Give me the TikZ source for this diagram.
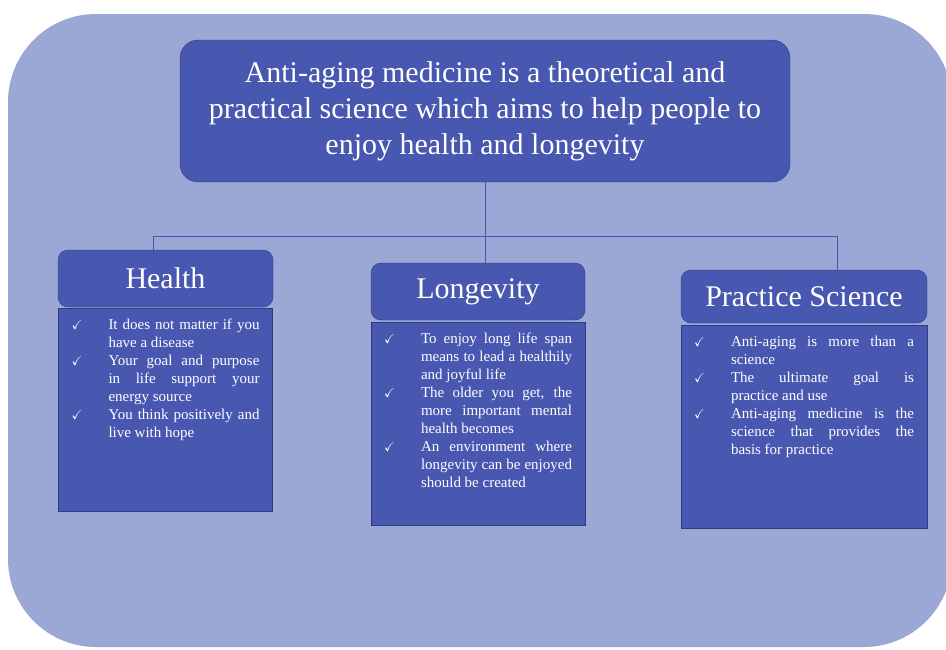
\documentclass[tikz,border=0pt]{standalone}
\usepackage{amssymb}
\usepackage{fontspec}
\setmainfont{Liberation Serif}
\usepackage{tikz}
\usetikzlibrary{positioning}
\definecolor{backblue}{RGB}{155,168,214}
\definecolor{boxblue}{RGB}{72,87,176}
\definecolor{edgeblue}{RGB}{48,58,128}
\tikzset{head node/.style={rounded corners=10pt,fill=boxblue,draw=edgeblue,text=white,minimum height=57pt,font=\fontsize{30}{34}\selectfont},
  body node/.style={fill=boxblue,draw=edgeblue,text=white,inner xsep=13pt,inner ysep=8pt,font=\fontsize{15}{18}\selectfont},}
\newcommand{\tick}[1]{\noindent\hangindent=37pt\hangafter=0\llap{\makebox[37pt][l]{\fontsize{13}{13}\selectfont$\checkmark$}}#1\par}
\newcommand{\bodytext}[2]{\begin{minipage}[t][187pt][t]{#1}\sloppy\hyphenpenalty=10000\exhyphenpenalty=10000 \vspace*{3pt}#2\end{minipage}}

\begin{document}
\begin{tikzpicture}[x=1pt, y=-1pt, node distance=1.5pt, thin]
    \useasboundingbox (0,0) rectangle (946,649);
    \fill[backblue, rounded corners=88pt] (8,14) rectangle (952,647);

	\node[rounded corners=18pt, fill=boxblue, draw=edgeblue, text=white, minimum width=610pt, minimum height=142pt, align=center, font=\fontsize{30}{36}\selectfont] (top) at (485,111)
	  {Anti-aging medicine is a theoretical and\\ practical science which aims to help people to\\ enjoy health and longevity};

    \node[head node, minimum width=215pt] (health) at (165.5,278.5) {Health};
    \node[head node, minimum width=214pt] (longevity) at (478,291.5) {Longevity};
    \node[head node, minimum width=246pt, minimum height=53pt] (practice) at (804,296.5) {Practice Science};

    \node[body node, below=1pt of health] (healthtxt) {\bodytext{188pt}{%
      \tick{It does not matter if you\linebreak have a disease}
      \tick{Your goal and purpose\linebreak in life support your\linebreak energy source}
      \tick{You think positively and\linebreak live with hope}}};
    \node[body node, below=2pt of longevity] (longtxt) {\bodytext{188pt}{%
      \tick{To enjoy long life span\linebreak means to lead a healthily\linebreak and joyful life}
      \tick{The older you get, the\linebreak more important mental\linebreak health becomes}
      \tick{An environment where\linebreak longevity can be enjoyed\linebreak should be created}}};
    \node[body node, below=1.5pt of practice] (practxt) {\bodytext{220pt}{%
      \tick{Anti-aging is more than a\linebreak science}
      \tick{The ultimate goal is\linebreak practice and use}
      \tick{Anti-aging medicine is the\linebreak science that provides the\linebreak basis for practice}}};

    % tree connectors
    \coordinate (split) at (485,236);
    \draw[boxblue] (top.south) -- (split);
    \draw[boxblue] (split) -| ([xshift=-12pt]health.north);
    \draw[boxblue] (split) -- ([xshift=7pt]longevity.north);
    \draw[boxblue] (split) -| ([xshift=33pt]practice.north);
\end{tikzpicture}
\end{document}
